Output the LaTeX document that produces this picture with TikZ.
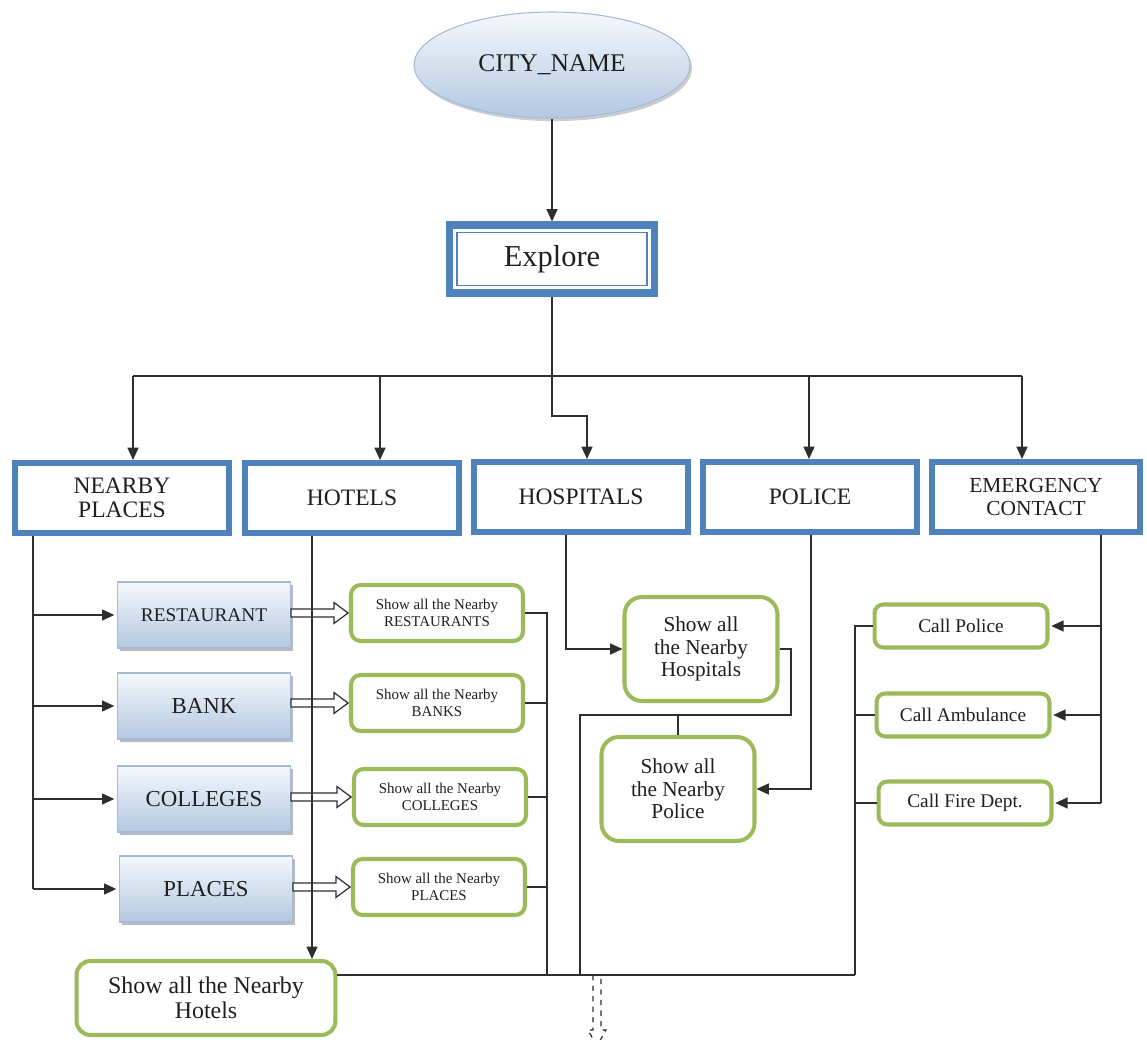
\documentclass[tikz,border=0pt]{standalone}
\usepackage{fontspec}
\setmainfont{Liberation Serif}
\usepackage{tikz}
\usetikzlibrary{positioning,arrows.meta}
\usetikzlibrary{shapes.geometric,shadows,calc}

\definecolor{boxblue}{HTML}{4F81BD}
\definecolor{edgeblue}{HTML}{A3BAD8}
\definecolor{paleblue}{HTML}{F5F8FC}
\definecolor{skyblue}{HTML}{B3C8E2}
\definecolor{leafgreen}{HTML}{9BBB59}
\definecolor{wire}{HTML}{2E2E2E}

\tikzset{
    wirestyle/.style={draw=wire, line width=0.9pt},
    arr/.style={wirestyle, -{Triangle[length=7pt,width=6.2pt]}},
    hollow/.style={draw=wire, fill=white, line width=0.7pt},
    cityshape/.style={ellipse, draw=edgeblue, line width=0.6pt, top color=paleblue, bottom color=skyblue,
        minimum width=5.52cm, minimum height=2.12cm,
        drop shadow={shadow xshift=1.2pt, shadow yshift=-1.8pt, fill=black!40, opacity=0.5},
        font=\fontsize{14.5}{16}\selectfont},
    explorebox/.style={draw=boxblue, line width=4pt, fill=white, minimum width=4.1cm, minimum height=1.36cm,
        font=\fontsize{17.3}{19}\selectfont},
    exploreinner/.style={draw=boxblue, line width=1pt, minimum width=4.1cm-8.6pt, minimum height=1.36cm-8.6pt},
    catbox/.style={draw=boxblue, line width=3.4pt, fill=white, minimum width=4.3cm, minimum height=1.4cm,
        align=center, font=\fontsize{13.4}{13.5}\selectfont},
    gradbox/.style={draw=edgeblue, line width=0.6pt, top color=paleblue, bottom color=skyblue,
        minimum width=3.46cm, minimum height=1.32cm,
        drop shadow={shadow xshift=1.2pt, shadow yshift=-1.8pt, fill=black!45, opacity=0.6},
        font=\fontsize{13}{14}\selectfont},
    leafsmall/.style={draw=leafgreen, line width=2.3pt, fill=white, rounded corners=5.5pt,
        minimum width=3.44cm, minimum height=1.12cm, align=center, font=\fontsize{8.5}{9.5}\selectfont},
    leafbig/.style={draw=leafgreen, line width=2.3pt, fill=white, rounded corners=10pt,
        minimum width=3.06cm, minimum height=2.08cm, align=center, font=\fontsize{12.1}{12.9}\selectfont},
    leafcall/.style={draw=leafgreen, line width=2.3pt, fill=white, rounded corners=5pt,
        minimum width=3.46cm, minimum height=0.86cm, font=\fontsize{11}{12}\selectfont},
    leafhotel/.style={draw=leafgreen, line width=2.3pt, fill=white, rounded corners=8pt,
        minimum width=5.18cm, minimum height=1.48cm, align=center, font=\fontsize{13.6}{14.3}\selectfont}
}

% freccia vuota tra due nodi
\newcommand{\hollowarr}[2]{%
    \draw[hollow] let \p1=(#1.east), \p2=(#2.west) in
        (\x1,\y2+2.3pt) -- (\x2-8.5pt,\y2+2.3pt) -- (\x2-8.5pt,\y2+5.9pt) -- (\x2-0.5pt,\y2)
        -- (\x2-8.5pt,\y2-5.9pt) -- (\x2-8.5pt,\y2-2.3pt) -- (\x1,\y2-2.3pt) -- cycle;}

\begin{document}
\begin{tikzpicture}[x=0.02cm, y=-0.02cm, text=black!88]

    \useasboundingbox (0,0) rectangle (1147,1040);

    % Radice e nodo Explore
    \node[cityshape] (city) at (552,65) {CITY\_NAME};
    \node[explorebox] (explore) at (552,259) {Explore};
    \node[exploreinner] (exploreline) at (explore.center) {};

    % Categorie principali
    \node[catbox] (nearby) at (122,498) {NEARBY\\PLACES};
    \node[catbox] (hotels) at (352,498) {HOTELS};
    \node[catbox] (hospitals) at (581,497) {HOSPITALS};
    \node[catbox] (police) at (810,497) {POLICE};
    \node[catbox, minimum width=4.16cm, font=\fontsize{12.2}{13.2}\selectfont] (emergency) at (1036,497) {EMERGENCY\\CONTACT};

    % Sottocategorie dei luoghi vicini
    \node[gradbox, font=\fontsize{11}{12}\selectfont] (restaurant) at (204,615) {RESTAURANT};
    \node[gradbox] (bank) at (204,706) {BANK};
    \node[gradbox] (colleges) at (204,799) {COLLEGES};
    \node[gradbox] (places) at (206,889) {PLACES};

    \node[leafsmall] (showrest) at (437,613) {Show all the Nearby\\RESTAURANTS};
    \node[leafsmall] (showbank) at (437,703) {Show all the Nearby\\BANKS};
    \node[leafsmall] (showcoll) at (440,797) {Show all the Nearby\\COLLEGES};
    \node[leafsmall] (showplaces) at (439,887) {Show all the Nearby\\PLACES};

    % Risultati di ospedali, polizia, emergenza e hotel
    \node[leafbig] (showhosp) at (701,649) {Show all\\the Nearby\\Hospitals};
    \node[leafbig] (showpol) at (678,789) {Show all\\the Nearby\\Police};
    \node[leafcall] (callpol) at (961,626) {Call Police};
    \node[leafcall] (callamb) at (963,715) {Call Ambulance};
    \node[leafcall] (callfire) at (965,803) {Call Fire Dept.};
    \node[leafhotel] (showhotels) at (206,998) {Show all the Nearby\\Hotels};

    % Punti di snodo delle linee
    \coordinate (bus) at (552,376);
    \coordinate (busL) at (133,376);
    \coordinate (busR) at (1022,376);
    \coordinate (hotelsin) at (380,376);
    \coordinate (policein) at (809,376);
    \coordinate (hospin) at (587,416);
    \coordinate (nl) at (33,0);
    \coordinate (hl) at (312,0);
    \coordinate (hsl) at (566,0);
    \coordinate (pl) at (811,0);
    \coordinate (el) at (1101,0);
    \coordinate (gr) at (547,975);
    \coordinate (hr) at (791,715);
    \coordinate (hb) at (580,975);
    \coordinate (cl) at (855,975);
    \coordinate (out) at (597,975);

    % Frecce vuote
    \hollowarr{restaurant}{showrest}
    \hollowarr{bank}{showbank}
    \hollowarr{colleges}{showcoll}
    \hollowarr{places}{showplaces}

    % Collegamenti dall'alto
    \draw[arr] (city) -- (explore);
    \draw[wirestyle] (explore) -- (bus);
    \draw[wirestyle] (busL) -- (busR);
    \draw[arr] (busL) -- (busL |- nearby.north);
    \draw[arr] (hotelsin) -- (hotelsin |- hotels.north);
    \draw[arr] (bus) |- (hospin) -- (hospin |- hospitals.north);
    \draw[arr] (policein) -- (policein |- police.north);
    \draw[arr] (busR) -- (busR |- emergency.north);

    % Ramo dei luoghi vicini
    \draw[wirestyle] (nearby.south -| nl) -- (places.west -| nl);
    \draw[arr, shorten >=1.5pt] (restaurant.west -| nl) -- (restaurant.west);
    \draw[arr, shorten >=1.5pt] (bank.west -| nl) -- (bank.west);
    \draw[arr, shorten >=1.5pt] (colleges.west -| nl) -- (colleges.west);
    \draw[arr, shorten >=1.5pt] (places.west -| nl) -- (places.west);
    \draw[arr] (hotels.south -| hl) -- (showhotels.north -| hl);

    % Linee di ritorno verso il basso
    \draw[wirestyle] (showrest.east) -| (gr);
    \draw[wirestyle] (showbank.east) -- (showbank.east -| gr);
    \draw[wirestyle] (showcoll.east) -- (showcoll.east -| gr);
    \draw[wirestyle] (showplaces.east) -- (showplaces.east -| gr);
    \draw[wirestyle] (showhotels.east |- gr) -- (gr) -- (cl);

    % Ospedali e polizia
    \draw[arr] (hospitals.south -| hsl) |- (showhosp.west);
    \draw[wirestyle] (showhosp.east) -| (hr) -| (hb);
    \draw[wirestyle] (showpol.north) -- (showpol.north |- hr);
    \draw[arr] (police.south -| pl) |- (showpol.east);

    % Contatti di emergenza
    \draw[wirestyle] (emergency.south -| el) -- (callfire.east -| el);
    \draw[arr, shorten >=1pt] (callpol.east -| el) -- (callpol.east);
    \draw[arr, shorten >=1pt] (callamb.east -| el) -- (callamb.east);
    \draw[arr, shorten >=1pt] (callfire.east -| el) -- (callfire.east);
    \draw[wirestyle] (callpol.west) -| (cl);
    \draw[wirestyle] (callamb.west) -- (callamb.west -| cl);
    \draw[wirestyle] (callfire.west) -- (callfire.west -| cl);

    % Uscita tratteggiata
    \draw[dashed, draw=wire, line width=0.7pt] ([xshift=-2.3pt]out) -- ++(0,55) -- ++(-5,0)
        -- ++(9,16) -- ++(9,-16) -- ++(-5,0) -- ++(0,-55);

\end{tikzpicture}
\end{document}
